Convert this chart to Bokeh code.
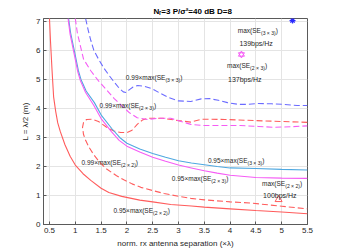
from bokeh.plotting import figure
from bokeh.models import Range1d, Label, FixedTicker, NumeralTickFormatter
from bokeh.embed import file_html
from bokeh.resources import INLINE

# ---------------- data ----------------
x_ticks = [0.5, 1, 1.5, 2, 2.5, 3, 3.5, 4, 4.5, 5, 5.5]
y_ticks = [0, 1, 2, 3, 4, 5, 6, 7]

# 0.95 x max(SE 2x2)  (red, solid)
red95_x = [0.5, 0.52, 0.55, 0.58, 0.62, 0.66, 0.71, 0.8, 0.9, 1.0, 1.15, 1.3, 1.5, 1.65, 1.9, 2.25, 2.5, 2.85, 3.25, 3.5, 4.0, 4.5, 5.0, 5.5]
red95_y = [7.1, 6.3, 5.3, 4.4, 3.9, 3.5, 3.2, 2.75, 2.35, 2.05, 1.75, 1.52, 1.25, 1.1, 0.97, 0.84, 0.78, 0.69, 0.64, 0.6, 0.54, 0.48, 0.43, 0.37]

# 0.99 x max(SE 2x2)  (red, dashed)
red99_x = [5.5, 5.0, 4.5, 3.9, 3.45, 3.24, 3.0, 2.7, 2.4, 2.3, 2.2, 2.1, 2.0, 1.88, 1.75, 1.6, 1.45, 1.33, 1.22, 1.16, 1.14, 1.16, 1.2, 1.27, 1.36, 1.47, 1.6, 1.8, 1.94, 2.1, 2.27, 2.5, 2.72, 3.0, 3.24, 3.5, 4.0, 4.4, 5.0, 5.5]
red99_y = [3.52, 3.55, 3.58, 3.62, 3.63, 3.53, 3.58, 3.66, 3.66, 3.6, 3.45, 3.25, 3.17, 3.17, 3.22, 3.36, 3.55, 3.63, 3.62, 3.52, 3.35, 3.1, 2.9, 2.65, 2.4, 2.15, 1.92, 1.68, 1.54, 1.4, 1.28, 1.17, 1.07, 0.97, 0.9, 0.85, 0.78, 0.74, 0.63, 0.54]

# 0.95 x max(SE 2x3)  (magenta, solid)
mag95_x = [0.86, 0.9, 0.97, 1.05, 1.1, 1.2, 1.36, 1.5, 1.7, 1.85, 2.0, 2.25, 2.5, 2.75, 3.0, 3.25, 3.5, 3.75, 4.0, 4.5, 5.0, 5.5]
mag95_y = [7.1, 6.55, 5.95, 5.25, 4.95, 4.55, 4.1, 3.65, 3.2, 2.9, 2.7, 2.5, 2.32, 2.18, 2.05, 1.95, 1.85, 1.77, 1.7, 1.62, 1.6, 1.59]

# 0.99 x max(SE 2x3)  (magenta, dashed)
mag99_x = [1.0, 1.04, 1.08, 1.16, 1.3, 1.45, 1.6, 1.75, 1.9, 2.05, 2.2, 2.4, 2.6, 2.85, 3.05, 3.24, 3.5, 3.85, 4.2, 4.55, 4.86, 5.2, 5.5]
mag99_y = [7.1, 6.6, 6.3, 5.7, 5.3, 4.95, 4.65, 4.35, 4.1, 3.85, 3.68, 3.62, 3.66, 3.66, 3.55, 3.45, 3.41, 3.41, 3.41, 3.38, 3.35, 3.37, 3.4]

# 0.95 x max(SE 3x3)  (light blue, solid)
cyn95_x = [0.87, 0.91, 0.98, 1.06, 1.11, 1.21, 1.37, 1.51, 1.71, 1.86, 2.0, 2.25, 2.5, 2.75, 3.0, 3.25, 3.5, 3.75, 4.0, 4.5, 5.0, 5.5]
cyn95_y = [7.1, 6.6, 6.0, 5.3, 5.0, 4.6, 4.2, 3.75, 3.3, 3.0, 2.8, 2.6, 2.45, 2.32, 2.2, 2.12, 2.06, 2.0, 1.95, 1.93, 1.9, 1.88]

# 0.99 x max(SE 3x3)  (blue, dashed)
blu99_x = [1.2, 1.25, 1.3, 1.36, 1.45, 1.55, 1.65, 1.75, 1.85, 1.93, 1.98, 2.05, 2.12, 2.21, 2.35, 2.5, 2.65, 2.8, 3.0, 3.24, 3.44, 3.6, 3.77, 3.95, 4.16, 4.35, 4.55, 4.8, 5.05, 5.3, 5.5]
blu99_y = [7.1, 6.7, 6.35, 6.0, 5.7, 5.4, 5.15, 4.92, 4.7, 4.57, 4.55, 4.65, 4.74, 4.79, 4.76, 4.67, 4.52, 4.38, 4.26, 4.24, 4.33, 4.34, 4.28, 4.2, 4.14, 4.14, 4.17, 4.16, 4.14, 4.1, 4.1]

# maxima
max33_x, max33_y = [5.21], [7.03]
max23_x, max23_y = [4.22], [5.86]
max22_x, max22_y = [4.94], [0.86]

title_text = "Nᵣ=3  P/σ²=40 dB   D=8"

# ---------------- styling ----------------
RED = "#FF5C5C"
MAG = "#F55CF5"
CYN = "#4FA8E0"
BLU = "#6B6BFF"
TXT = "#262626"
FONT = "Liberation Sans"

p = figure(width=339, height=250, output_backend="svg", toolbar_location=None,
           x_range=Range1d(0.384, 5.5), y_range=Range1d(0, 7.1),
           min_border_left=43, min_border_right=32, min_border_top=18, min_border_bottom=26)
p.outline_line_color = "#5A5A5A"
p.background_fill_color = "white"
p.border_fill_color = "white"

p.title.text = title_text
p.title.text_font = FONT
p.title.text_font_size = "8px"
p.title.text_font_style = "bold"
p.title.text_color = "#000000"
p.title.align = "left"
p.title.offset = 110
p.title.standoff = 6

DASH = "6 3"
p.line(red95_x, red95_y, line_color=RED, line_width=1.1)
p.line(red99_x, red99_y, line_color=RED, line_width=1.1, line_dash=DASH)
p.line(cyn95_x, cyn95_y, line_color=CYN, line_width=1.1)
p.line(mag95_x, mag95_y, line_color=MAG, line_width=1.1)
p.line(mag99_x, mag99_y, line_color=MAG, line_width=1.1, line_dash=DASH)
p.line(blu99_x, blu99_y, line_color=BLU, line_width=1.1, line_dash=DASH)

p.scatter(max33_x, max33_y, marker="asterisk", size=6, line_color="#2A2AFF", line_width=1.3)
p.scatter(max23_x, max23_y, marker="triangle", size=6, line_color=MAG, fill_color=None, line_width=1)
p.scatter(max23_x, max23_y, marker="inverted_triangle", size=6, line_color=MAG, fill_color=None, line_width=1)
p.scatter(max22_x, max22_y, marker="triangle", size=7, line_color=RED, fill_color=None, line_width=1)

# axes
for ax in (p.xaxis[0], p.yaxis[0]):
    ax.axis_line_color = "#5A5A5A"
    ax.major_tick_line_color = "#5A5A5A"
    ax.major_tick_in = 3
    ax.major_tick_out = 0
    ax.minor_tick_line_color = None
    ax.major_label_text_font = FONT
    ax.major_label_text_font_size = "8px"
    ax.major_label_text_color = TXT
    ax.axis_label_text_font = FONT
    ax.axis_label_text_font_size = "8px"
    ax.axis_label_text_font_style = "normal"
    ax.axis_label_text_color = TXT
    ax.major_label_standoff = 3
    ax.axis_label_standoff = 3
    ax.formatter = NumeralTickFormatter(format="0.[0]")
p.xaxis.ticker = FixedTicker(ticks=x_ticks)
p.yaxis.ticker = FixedTicker(ticks=y_ticks)
p.xaxis.axis_label = "norm. rx antenna separation (×λ)"
p.yaxis.axis_label = "L = λ/2 (m)"

p.grid.grid_line_color = "#E4E4E4"
p.grid.grid_line_width = 1
p.xgrid.ticker = FixedTicker(ticks=x_ticks)
p.ygrid.ticker = FixedTicker(ticks=y_ticks)

# ---------------- rich text labels ----------------
W_REG = {'0': 556, '1': 556, '2': 556, '3': 556, '4': 556, '5': 556, '6': 556, '7': 556, '8': 556, '9': 556,
         '.': 278, '×': 584, 'm': 833, 'a': 556, 'x': 500, '(': 333, ')': 333, 'S': 667, 'E': 667, ' ': 278,
         'b': 556, 'p': 556, 's': 500, '/': 278, 'H': 722, 'z': 500}


def tw(s, size):
    return sum(W_REG.get(c, 556) for c in s) * size / 1000.0


def rich(x, y, parts, size=6.5, color=TXT):
    off = 0.0
    for text, kind in parts:
        if kind == "sub":
            sz, dy = size * 0.78, -2.6
        else:
            sz, dy = size, 0
        p.add_layout(Label(x=x, y=y, text=text, x_offset=off, y_offset=dy,
                           text_font=FONT, text_font_size=f"{sz}px",
                           text_baseline="middle", text_align="left", text_color=color))
        off += tw(text, sz)


def se_label(x, y, factor, sub):
    rich(x, y, [(factor + "max(SE", "m"), (sub, "sub"), (")", "m")])


se_label(1.98, 5.07, "0.99×", "(3 × 3)")
se_label(1.47, 4.10, "0.99×", "(2 × 3)")
se_label(1.12, 2.15, "0.99×", "(2 × 2)")
se_label(1.74, 0.48, "0.95×", "(2 × 2)")
se_label(2.87, 1.59, "0.95×", "(2 × 3)")
se_label(3.57, 2.21, "0.95×", "(3 × 3)")

se_label(4.15, 6.69, "", "(3 × 3)")
rich(4.18, 6.25, [("139bps/Hz", "m")], size=7)
se_label(3.94, 5.48, "", "(2 × 3)")
rich(3.96, 5.00, [("137bps/Hz", "m")], size=7)
se_label(4.62, 1.40, "", "(2 × 2)")
rich(4.64, 1.00, [("100bps/Hz", "m")], size=7)

open("out.html", "w").write(file_html(p, INLINE))
